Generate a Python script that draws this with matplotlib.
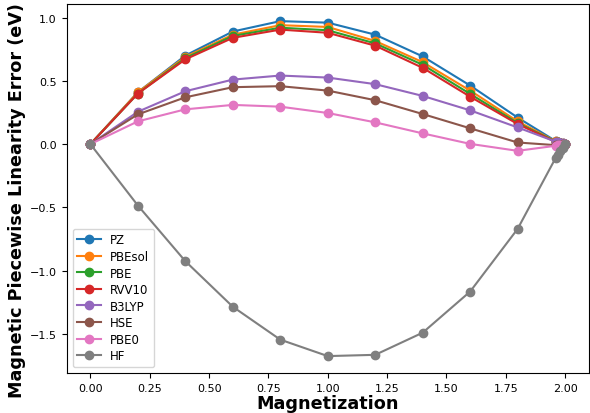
import matplotlib
matplotlib.use("Agg")
from matplotlib import pyplot as plt

# magnetization grid (extra points close to 2)
mag = [0.0, 0.2, 0.4, 0.6, 0.8, 1.0, 1.2, 1.4, 1.6, 1.8, 1.96, 1.97, 1.98, 1.99, 2.0]

pz = [0.0, 0.41, 0.70, 0.89, 0.972, 0.96, 0.865, 0.693, 0.463, 0.21, 0.025, 0.018, 0.012, 0.006, 0.0]
pbesol = [0.0, 0.41, 0.69, 0.865, 0.94, 0.926, 0.815, 0.648, 0.423, 0.18, 0.022, 0.016, 0.01, 0.005, 0.0]
pbe = [0.0, 0.40, 0.68, 0.855, 0.92, 0.90, 0.796, 0.627, 0.397, 0.167, 0.02, 0.014, 0.009, 0.004, 0.0]
rvv10 = [0.0, 0.40, 0.67, 0.84, 0.905, 0.88, 0.778, 0.603, 0.375, 0.159, 0.018, 0.012, 0.008, 0.004, 0.0]
b3lyp = [0.0, 0.256, 0.418, 0.51, 0.542, 0.526, 0.474, 0.381, 0.267, 0.132, 0.02, 0.015, 0.01, 0.005, 0.0]
hse = [0.0, 0.235, 0.37, 0.45, 0.458, 0.423, 0.347, 0.238, 0.125, 0.013, -0.008, -0.006, -0.004, -0.002, 0.0]
pbe0 = [0.0, 0.18, 0.275, 0.31, 0.296, 0.246, 0.172, 0.085, 0.002, -0.053, -0.013, -0.009, -0.006, -0.003, 0.0]
hf = [0.0, -0.485, -0.925, -1.285, -1.545, -1.675, -1.665, -1.49, -1.165, -0.67, -0.11, -0.085, -0.055, -0.028, 0.0]

series = [
    ('PZ', pz),
    ('PBEsol', pbesol),
    ('PBE', pbe),
    ('RVV10', rvv10),
    ('B3LYP', b3lyp),
    ('HSE', hse),
    ('PBE0', pbe0),
    ('HF', hf),
]

fig = plt.figure(figsize=(5.9, 4.14), dpi=100)
ax = fig.add_axes([0.113, 0.097, 0.885, 0.89])

for label, vals in series:
    ax.plot(mag, vals, marker='o', label=label)

ax.set_xlabel("Magnetization", fontsize=12.7, fontweight='bold')
ax.set_ylabel("Magnetic Piecewise Linearity Error (eV)", fontsize=12.7, fontweight='bold')
ax.xaxis.set_label_coords(0.5, -0.058)
ax.yaxis.set_label_coords(-0.078, 0.47)
ax.tick_params(labelsize=8)
ax.legend(loc='lower left', fontsize=8.5, labelspacing=0.3)

fig.savefig("out.png", dpi=100)
